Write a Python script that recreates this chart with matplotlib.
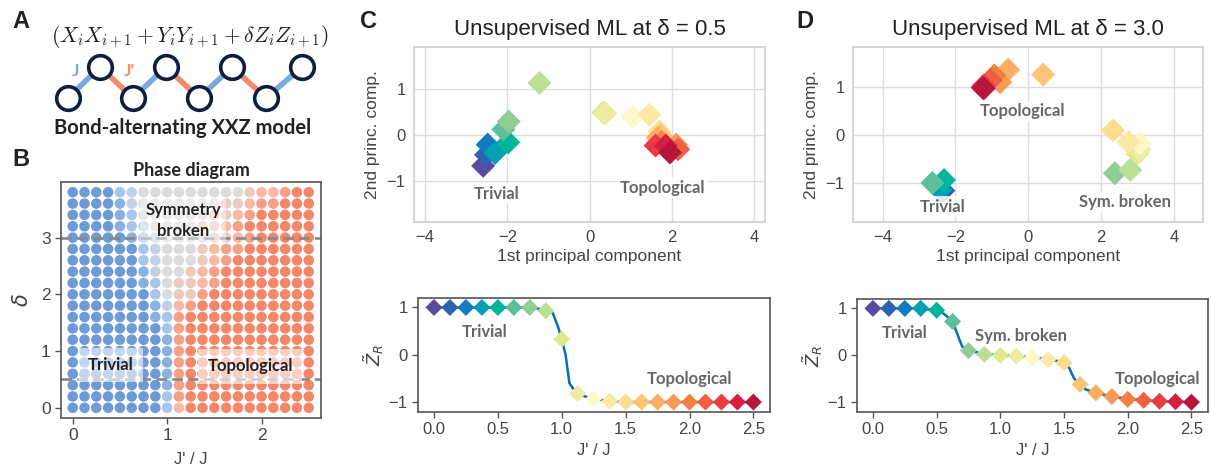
import numpy as np
import matplotlib
matplotlib.use('Agg')
import matplotlib.pyplot as plt
from matplotlib.colors import LinearSegmentedColormap

plt.rcParams['font.family'] = ['Liberation Sans', 'DejaVu Sans']
plt.rcParams['mathtext.fontset'] = 'cm'
LAB = ['Lato', 'DejaVu Sans']

# ---- data ----
jratio = np.arange(21) * 0.125            # J'/J samples 0 .. 2.5
deltas = np.arange(20)[::-1] * 0.2        # delta rows 3.8 .. 0.0

# phase diagram levels (0 = trivial blue, 4 = grey, 8 = topological red)
phase_rows = [
    "000023444444444566788",  # 3.8
    "000013444444455677888",  # 3.6
    "000012444444556788888",  # 3.4
    "000012344445567888888",  # 3.2
    "000001234444556788888",  # 3.0
    "000000234445677888888",  # 2.8
    "000000234445678888888",  # 2.6
    "000000134456788888888",  # 2.4
    "000000124556788888888",  # 2.2
    "000000024557888888888",  # 2.0
    "000000013678888888888",  # 1.8
    "000000012788888888888",  # 1.6
    "000000002788888888888",  # 1.4
    "000000001788888888888",  # 1.2
    "000000001788888888888",  # 1.0
    "000000001788888888888",  # 0.8
    "000000001788888888888",  # 0.6
    "000000001788888888888",  # 0.4
    "000000002788888888888",  # 0.2
    "000000002688888888888",  # 0.0
]

# colours of the 21 J'/J samples
sample_colors = ['#5a4aa0', '#2c62b0', '#0f7cc0', '#00a0b4', '#00b59a', '#5cc09a',
                 '#8fcd94', '#bcdf96', '#dfe98f', '#ebeda0', '#fdf8c8', '#fde9a4',
                 '#fedd8e', '#fdc477', '#fcae62', '#f89a55', '#f47e45', '#ef6041',
                 '#e83d45', '#d81e44', '#b5173c']

# PCA projections, delta = 0.5
pc1_c = [-2.59, -2.52, -2.48, -2.30, -1.98, -2.10, -1.97, -1.22, 0.33, 0.38, 1.05,
         1.45, 1.70, 1.72, 1.65, 2.10, 1.75, 2.15, 1.60, 1.85, 1.95]
pc2_c = [-0.66, -0.42, -0.20, -0.38, -0.15, 0.13, 0.30, 1.14, 0.50, 0.48, 0.40,
         0.45, 0.08, 0.00, -0.05, -0.20, -0.15, -0.30, -0.22, -0.22, -0.37]
# PCA projections, delta = 3.0
pc1_d = [-2.35, -2.33, -2.37, -2.42, -2.31, -2.63, 2.38, 2.80, 3.00, 3.05, 3.07,
         2.75, 2.33, 0.41, -0.55, -0.77, -0.93, -1.03, -1.22, -1.25, -1.22]
pc2_d = [-1.15, -1.15, -1.12, -1.14, -0.93, -0.99, -0.79, -0.72, -0.38, -0.30, -0.17,
         -0.14, 0.10, 1.26, 1.36, 1.10, 1.24, 1.14, 1.03, 0.99, 0.97]

# order parameter Z_R at the samples
zr_c = [1, 1, 1, 1, 1, 1, 1, 0.93, 0.33, -0.82, -0.93, -0.98, -1, -1, -1, -1, -1, -1, -1, -1, -1]
zr_d = [1, 1, 1, 1, 0.96, 0.72, 0.10, 0.02, 0.0, -0.02, -0.05, -0.09, -0.16, -0.62,
        -0.80, -0.88, -0.94, -0.96, -0.98, -0.99, -1]
# fitted curves
line_jc = [0, 0.75, 0.875, 0.93, 0.97, 1.0, 1.03, 1.06, 1.09, 1.125, 1.18, 1.25, 1.375, 1.5, 2.5]
line_zc = [1, 1, 0.95, 0.88, 0.60, 0.33, 0.0, -0.60, -0.72, -0.80, -0.88, -0.93, -0.98, -1.0, -1.0]
line_jd = [0, 0.375, 0.5, 0.56, 0.625, 0.67, 0.70, 0.75, 0.875, 1.0, 1.125, 1.25, 1.375, 1.5,
           1.54, 1.58, 1.625, 1.67, 1.75, 1.875, 2.0, 2.125, 2.25, 2.375, 2.5]
line_zd = [1, 1, 0.96, 0.88, 0.72, 0.40, 0.19, 0.10, 0.03, 0.0, -0.02, -0.04, -0.08, -0.15,
           -0.27, -0.50, -0.62, -0.73, -0.80, -0.88, -0.93, -0.96, -0.98, -0.99, -1.0]

# chain sketch
chain_x = [68, 100, 133, 166, 199, 232, 266, 302]
chain_y = [98, 67, 98, 67, 98, 67, 98, 67]

fig = plt.figure(figsize=(12.11, 4.72), dpi=100)
W, H = 1211, 472


def px_axes(x0, y0, x1, y1):
    return fig.add_axes([x0 / W, 1 - y1 / H, (x1 - x0) / W, (y1 - y0) / H])


def letter(x, y, s):
    fig.text(x / W, 1 - y / H, s, fontsize=17, fontweight='bold', ha='left', va='top',
             family=['Liberation Sans Narrow', 'Liberation Sans'], color='#222222')


# ---- A ----
axA = px_axes(0, 0, 340, 150)
axA.set_xlim(0, 340)
axA.set_ylim(150, 0)
axA.axis('off')
for i in range(len(chain_x) - 1):
    col = '#7ca8dd' if i % 2 == 0 else '#f08b70'
    axA.plot(chain_x[i:i + 2], chain_y[i:i + 2], color=col, lw=4, solid_capstyle='butt', zorder=1)
axA.scatter(chain_x, chain_y, s=290, facecolor='white', edgecolor='#0c1f3f', linewidths=2.6, zorder=2)
axA.text(190, 36, r'$(X_iX_{i+1} + Y_iY_{i+1} + \delta Z_iZ_{i+1})$', fontsize=15.5,
         ha='center', va='center', color='#222222', math_fontfamily='cm')
axA.text(76, 71, 'J', color='#7ca8dd', fontsize=12.5, fontweight='bold', ha='center', va='center', family=LAB)
axA.text(129, 71, "J'", color='#f08b70', fontsize=12.5, fontweight='bold', ha='center', va='center', family=LAB)
axA.text(183, 128, 'Bond-alternating XXZ model', fontsize=14.5, fontweight='bold',
         ha='center', va='center', family=LAB, color='#222222')
letter(12, 10, 'A')

# ---- B ----
axB = px_axes(61, 182, 321, 418)
phase_cmap = LinearSegmentedColormap.from_list(
    'phase', ['#6e9bd6', '#a7c6ea', '#dcdcdc', '#f8bba5', '#f4876a'])
JJ, DD = np.meshgrid(jratio, deltas)
levels = np.array([[int(ch) for ch in row] for row in phase_rows])
axB.scatter(JJ.ravel(), DD.ravel(), c=levels.ravel(), cmap=phase_cmap, vmin=0, vmax=8,
            s=58, linewidths=0, zorder=1)
for d in (0.5, 3.0):
    axB.axhline(d, color='#888888', lw=1.9, ls=(0, (4, 2)), zorder=2)
box = dict(facecolor='white', alpha=0.6, edgecolor='none', boxstyle='square,pad=0.55')
axB.text(0.40, 0.75, 'Trivial', fontsize=12, fontweight='bold', family=LAB, color='#222222',
         ha='center', va='center', bbox=box, zorder=3)
axB.text(1.88, 0.73, 'Topological', fontsize=12, fontweight='bold', family=LAB, color='#222222',
         ha='center', va='center', bbox=box, zorder=3)
axB.text(1.17, 3.30, 'Symmetry\nbroken', fontsize=12, fontweight='bold', family=LAB, color='#222222',
         ha='center', va='center', linespacing=1.35,
         bbox=dict(facecolor='white', alpha=0.45, edgecolor='none', boxstyle='square,pad=0.3'), zorder=3)
axB.set_xlim(-0.124, 2.63)
axB.set_ylim(-0.18, 3.98)
axB.set_xticks([0, 1, 2])
axB.set_yticks([0, 1, 2, 3])
axB.set_xlabel("J' / J", fontsize=12, color='#444444', labelpad=6)
axB.set_ylabel(r'$\delta$', fontsize=15, color='#444444', labelpad=6, math_fontfamily='dejavusans')
axB.set_title('Phase diagram', fontsize=13, family=LAB, fontweight='bold', color='#222222', pad=4)
for sp in axB.spines.values():
    sp.set_color('#555555')
    sp.set_linewidth(1.2)
axB.tick_params(colors='#555555', labelcolor='#444444', labelsize=12.5, length=4, width=1)
letter(12, 148, 'B')


# ---- C, D scatter ----
def pca_panel(ax, pc1, pc2, title, xlim, ylim, labels):
    ax.set_axisbelow(True)
    ax.grid(True, color='#dddddd', lw=1)
    ax.scatter(pc1, pc2, c=sample_colors, marker='D', s=150, linewidths=0, zorder=2)
    for x, y, s in labels:
        ax.text(x, y, s, fontsize=12, fontweight='bold', family=LAB, color='#666666',
                ha='center', va='center', zorder=3,
                bbox=dict(facecolor='white', alpha=0.85, edgecolor='none', boxstyle='square,pad=0.15'))
    ax.set_xlim(*xlim)
    ax.set_ylim(*ylim)
    ax.set_xticks([-4, -2, 0, 2, 4])
    ax.set_yticks([-1, 0, 1])
    for sp in ax.spines.values():
        sp.set_color('#d0d0d0')
        sp.set_linewidth(1.2)
    ax.tick_params(length=0, labelsize=12, labelcolor='#444444', pad=6)
    ax.set_xlabel('1st principal component', fontsize=12.5, color='#444444', labelpad=3)
    ax.set_ylabel('2nd princ. comp.', fontsize=12.5, color='#444444', labelpad=5)
    ax.set_title(title, fontsize=16, color='#222222', pad=9)


axC = px_axes(414, 47, 765, 222)
pca_panel(axC, pc1_c, pc2_c, 'Unsupervised ML at δ = 0.5', (-4.27, 4.26), (-1.88, 1.92),
          [(-2.25, -1.27, 'Trivial'), (1.78, -1.14, 'Topological')])
letter(360, 10, 'C')

axD = px_axes(853, 47, 1203, 222)
pca_panel(axD, pc1_d, pc2_d, 'Unsupervised ML at δ = 3.0', (-4.81, 4.8), (-1.8, 1.83),
          [(-2.35, -1.48, 'Trivial'), (-0.16, 0.50, 'Topological'), (2.67, -1.39, 'Sym. broken')])
letter(796, 10, 'D')


# ---- bottom Z_R panels ----
def zr_panel(ax, zr, lj, lz, labels):
    ax.plot(lj, lz, color='#0a6db8', lw=1.8, zorder=1)
    ax.scatter(jratio, zr, c=sample_colors, marker='D', s=75, linewidths=0, zorder=2)
    for x, y, s in labels:
        ax.text(x, y, s, fontsize=12, fontweight='bold', family=LAB, color='#666666',
                ha='center', va='center', zorder=3)
    ax.set_xlim(-0.125, 2.63)
    ax.set_ylim(-1.21, 1.2)
    ax.set_xticks([0, 0.5, 1.0, 1.5, 2.0, 2.5])
    ax.set_xticklabels(['0.0', '0.5', '1.0', '1.5', '2.0', '2.5'])
    ax.set_yticks([-1, 0, 1])
    for sp in ax.spines.values():
        sp.set_color('#555555')
        sp.set_linewidth(1.2)
    ax.tick_params(colors='#555555', labelcolor='#444444', labelsize=12, length=4, width=1)
    ax.set_xlabel("J' / J", fontsize=12, color='#444444', labelpad=4)
    ax.set_ylabel(r'$\tilde{Z}_R$', fontsize=13, color='#444444', labelpad=2,
                  math_fontfamily='dejavusans')


axCb = px_axes(418, 298, 770, 412)
zr_panel(axCb, zr_c, line_jc, line_zc, [(0.40, 0.49, 'Trivial'), (2.0, -0.52, 'Topological')])
axDb = px_axes(857, 299, 1208, 412)
zr_panel(axDb, zr_d, line_jd, line_zd,
         [(0.25, 0.47, 'Trivial'), (1.16, 0.41, 'Sym. broken'), (2.23, -0.50, 'Topological')])

fig.savefig('out.png', dpi=100)
